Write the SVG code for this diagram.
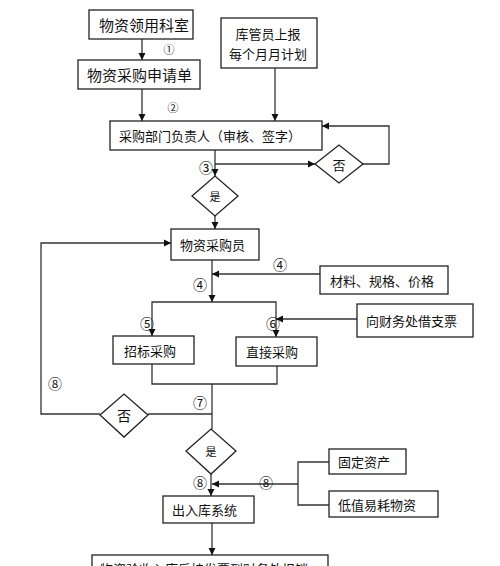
<svg xmlns="http://www.w3.org/2000/svg" width="500" height="566" viewBox="0 0 500 566">
<style>
.box{fill:#fff;stroke:#222;stroke-width:1.3}
.ln{fill:none;stroke:#333;stroke-width:1.3}
.t{font-family:"Noto Sans CJK SC","Liberation Sans",sans-serif;font-size:13px;fill:#111;dominant-baseline:central}
.t15{font-size:15px}
.n{font-family:"Noto Sans CJK SC","Noto Sans",sans-serif;font-size:14px;fill:#111;dominant-baseline:central;text-anchor:middle}
.s{font-size:11px}
.c{text-anchor:middle}
</style>
<defs>
<marker id="ah" markerWidth="8" markerHeight="8" refX="7" refY="4" orient="auto" markerUnits="userSpaceOnUse">
<path d="M0,0.5 L7,4 L0,7.5 Z" fill="#111"/>
</marker>
</defs>
<rect width="500" height="566" fill="#fff"/>
<g id="connectors">
<path class="ln" d="M142,39 V60" marker-end="url(#ah)"/>
<path class="ln" d="M142,89 V121" marker-end="url(#ah)"/>
<path class="ln" d="M275,68 V121" marker-end="url(#ah)"/>
<path class="ln" d="M215,150 V176" marker-end="url(#ah)"/>
<path class="ln" d="M215,164 H315" marker-end="url(#ah)"/>
<path class="ln" d="M363,164 H389 V126 H322" marker-end="url(#ah)"/>
<path class="ln" d="M215,216 V229" marker-end="url(#ah)"/>
<path class="ln" d="M100,414 H41 V243 H171" marker-end="url(#ah)"/>
<path class="ln" d="M212,260 V302" marker-end="url(#ah)"/>
<path class="ln" d="M320,274 H212" marker-end="url(#ah)"/>
<path class="ln" d="M212,302 H152 V336" marker-end="url(#ah)"/>
<path class="ln" d="M212,302 H276 V337" marker-end="url(#ah)"/>
<path class="ln" d="M357,319 H276" marker-end="url(#ah)"/>
<path class="ln" d="M152,364 V384 H277 V366"/>
<path class="ln" d="M212,384 V429"/>
<path class="ln" d="M212,414 H148"/>
<path class="ln" d="M211,474 V496" marker-end="url(#ah)"/>
<path class="ln" d="M298,484 H212" marker-end="url(#ah)"/>
<path class="ln" d="M329,462 H298 V505 H329"/>
<path class="ln" d="M212,523 V555" marker-end="url(#ah)"/>
</g>
<g id="labels">
<text class="n s" x="169" y="49">①</text>
<text class="n s" x="173" y="107">②</text>
<text class="n" x="206" y="167">③</text>
<text class="n" x="280" y="264">④</text>
<text class="n" x="200" y="284">④</text>
<text class="n" x="147" y="323">⑤</text>
<text class="n" x="273" y="323">⑥</text>
<text class="n" x="55" y="383">⑧</text>
<text class="n" x="200" y="402">⑦</text>
<text class="n" x="200" y="482">⑧</text>
<text class="n" x="266" y="482">⑧</text>
</g>
<g id="n1"><rect class="box" x="89" y="10" width="104" height="29"/><text class="t t15" x="99" y="24.5">物资领用科室</text></g>
<g id="n2"><rect class="box" x="78" y="60" width="122" height="29"/><text class="t t15" x="87" y="74.5">物资采购申请单</text></g>
<g id="n3"><rect class="box" x="221" y="18" width="96" height="50"/><text class="t c" x="268" y="33">库管员上报</text><text class="t c" x="268" y="53">每个月月计划</text></g>
<g id="n4"><rect class="box" x="110" y="121" width="212" height="29"/><text class="t" x="119" y="135.5">采购部门负责人（审核、签字）</text></g>
<g id="d1"><polygon class="box" points="315,164 339,145 363,164 339,183"/><text class="t c" x="339" y="164">否</text></g>
<g id="d2"><polygon class="box" points="192,196 215,176 238,196 215,216"/><text class="t c" x="215" y="196" style="font-size:11px">是</text></g>
<g id="n5"><rect class="box" x="171" y="229" width="88" height="31"/><text class="t" x="180" y="244.5">物资采购员</text></g>
<g id="n6"><rect class="box" x="320" y="266" width="128" height="28"/><text class="t" x="330" y="280">材料、规格、价格</text></g>
<g id="n7"><rect class="box" x="357" y="304" width="116" height="33"/><text class="t" x="366" y="320.5">向财务处借支票</text></g>
<g id="n8"><rect class="box" x="113" y="336" width="81" height="28"/><text class="t" x="124" y="350">招标采购</text></g>
<g id="n9"><rect class="box" x="236" y="337" width="81" height="29"/><text class="t" x="246" y="351.5">直接采购</text></g>
<g id="d3"><polygon class="box" points="100,415 124,394 148,415 124,437"/><text class="t c" x="124" y="415" style="font-size:14px">否</text></g>
<g id="d4"><polygon class="box" points="186,451 211,429 236,451 211,474"/><text class="t c" x="211" y="451" style="font-size:11px">是</text></g>
<g id="n10"><rect class="box" x="329" y="449" width="77" height="25"/><text class="t" x="338" y="461.5">固定资产</text></g>
<g id="n11"><rect class="box" x="329" y="491" width="109" height="26"/><text class="t" x="338" y="504">低值易耗物资</text></g>
<g id="n12"><rect class="box" x="163" y="496" width="91" height="27"/><text class="t" x="172" y="509.5">出入库系统</text></g>
<g id="n13"><rect class="box" x="92" y="555" width="236" height="30"/><text class="t" x="100" y="568">物资验收入库后持发票到财务处报销</text></g>
</svg>
